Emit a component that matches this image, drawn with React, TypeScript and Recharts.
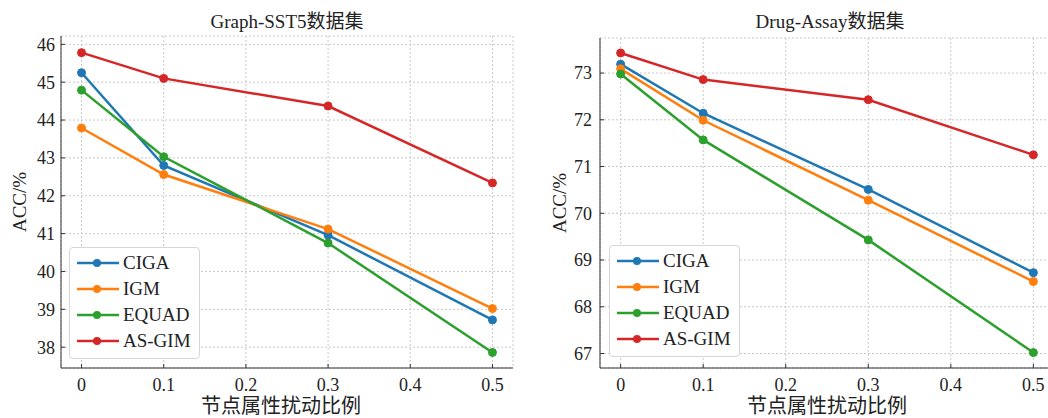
import React from 'react';
import { LineChart, Line, XAxis, YAxis, CartesianGrid } from 'recharts';

const ratios = [0, 0.1, 0.3, 0.5];
const xTicks = [0, 0.1, 0.2, 0.3, 0.4, 0.5];
const seriesNames = ['CIGA', 'IGM', 'EQUAD', 'AS-GIM'];
const seriesColors = ['#1f77b4', '#ff7f0e', '#2ca02c', '#d62728'];

// Graph-SST5
const sstCIGA = [45.25, 42.8, 40.96, 38.72];
const sstIGM = [43.79, 42.56, 41.12, 39.02];
const sstEQUAD = [44.79, 43.03, 40.75, 37.86];
const sstASGIM = [45.78, 45.1, 44.37, 42.34];
const sstTicks = [38, 39, 40, 41, 42, 43, 44, 45, 46];

// Drug-Assay
const drugCIGA = [73.19, 72.14, 70.51, 68.73];
const drugIGM = [73.09, 71.99, 70.28, 68.54];
const drugEQUAD = [72.98, 71.57, 69.43, 67.02];
const drugASGIM = [73.43, 72.86, 72.43, 71.25];
const drugTicks = [67, 68, 69, 70, 71, 72, 73];

const serif = '"Liberation Serif", "Noto Sans CJK SC", serif';

const buildRows = (cols: number[][]) =>
  ratios.map((r, i) => {
    const row: Record<string, number> = { ratio: r };
    seriesNames.forEach((n, k) => {
      row[n] = cols[k][i];
    });
    return row;
  });

const LegendBox = ({ left, top }: { left: number; top: number }) => (
  <div
    style={{
      position: 'absolute',
      left,
      top,
      background: '#fff',
      border: '1px solid #d6d6d6',
      borderRadius: 4,
      padding: '2px 8px 4px 7px',
    }}
  >
    {seriesNames.map((n, i) => (
      <div key={n} style={{ display: 'flex', alignItems: 'center', height: 26 }}>
        <svg width={42} height={10}>
          <line x1={0} y1={5} x2={42} y2={5} stroke={seriesColors[i]} strokeWidth={2.5} />
          <circle cx={20} cy={5} r={4} fill={seriesColors[i]} />
        </svg>
        <span style={{ marginLeft: 4, fontFamily: serif, fontSize: 19, color: '#222', lineHeight: '26px' }}>
          {n}
        </span>
      </div>
    ))}
  </div>
);

interface PanelProps {
  title: string;
  rows: Record<string, number>[];
  yDomain: [number, number];
  yTicks: number[];
  left: number;
  width: number;
  yAxisWidth: number;
  top: number;
  yLabelOffset: number;
  yTickMargin: number;
  legendLeft: number;
  legendTop: number;
  textShift: number;
}

const Panel = (p: PanelProps) => {
  const plotLeft = p.yAxisWidth;
  const plotRight = p.width - 11;
  return (
    <div style={{ position: 'absolute', left: p.left, top: 0, width: p.width, height: 418 }}>
      <div
        style={{
          position: 'absolute',
          left: plotLeft + p.textShift,
          width: plotRight - plotLeft,
          top: 6,
          textAlign: 'center',
          fontFamily: serif,
          fontSize: 19,
          color: '#222',
        }}
      >
        {p.title}
      </div>
      <LineChart
        width={p.width}
        height={418}
        data={p.rows}
        margin={{ top: p.top, right: 11, bottom: 0, left: 0 }}
      >
        <CartesianGrid xAxisId="b" yAxisId="l" stroke="#c8c8c8" strokeDasharray="2 2" />
        <XAxis
          xAxisId="b"
          dataKey="ratio"
          type="number"
          domain={[-0.025, 0.525]}
          ticks={xTicks}
          interval={0}
          height={50}
          stroke="#333"
          tickSize={-4}
          tickMargin={14}
          tick={{ fill: '#222', fontSize: 18, fontFamily: serif }}
          label={{
            value: '节点属性扰动比例',
            position: 'insideBottom',
            offset: 5,
            dx: p.textShift * 2 - 6,
            style: { fill: '#222', fontSize: 20, fontFamily: serif },
          }}
        />
        <XAxis
          xAxisId="t"
          orientation="top"
          dataKey="ratio"
          type="number"
          domain={[-0.025, 0.525]}
          ticks={xTicks}
          interval={0}
          height={0}
          stroke="#333"
          tickSize={-4}
          tickFormatter={() => ''}
        />
        <YAxis
          yAxisId="l"
          type="number"
          domain={p.yDomain}
          ticks={p.yTicks}
          interval={0}
          width={p.yAxisWidth}
          stroke="#333"
          tickSize={-4}
          tickMargin={p.yTickMargin}
          tick={{ fill: '#222', fontSize: 18, fontFamily: serif }}
          label={{
            value: 'ACC/%',
            angle: -90,
            position: 'insideLeft',
            offset: p.yLabelOffset,
            style: { fill: '#222', fontSize: 19, fontFamily: serif, textAnchor: 'middle' },
          }}
        />
        <YAxis
          yAxisId="r"
          orientation="right"
          type="number"
          domain={p.yDomain}
          ticks={p.yTicks}
          interval={0}
          width={0}
          stroke="#333"
          tickSize={-4}
          tickFormatter={() => ''}
        />
        {seriesNames.map((n, i) => (
          <Line
            key={n}
            xAxisId="b"
            yAxisId="l"
            dataKey={n}
            stroke={seriesColors[i]}
            strokeWidth={2.5}
            dot={{ r: 4, fill: seriesColors[i], stroke: seriesColors[i], strokeWidth: 1 }}
            activeDot={false}
            isAnimationActive={false}
          />
        ))}
      </LineChart>
      <LegendBox left={p.legendLeft} top={p.legendTop} />
    </div>
  );
};

export default function App() {
  return (
    <div
      style={{
        position: 'absolute',
        left: 0,
        top: 0,
        width: 1048,
        height: 418,
        overflow: 'hidden',
        background: '#fff',
      }}
    >
      <Panel
        title="Graph-SST5数据集"
        rows={buildRows([sstCIGA, sstIGM, sstEQUAD, sstASGIM])}
        yDomain={[37.45, 46.22]}
        yTicks={sstTicks}
        left={0}
        width={524}
        yAxisWidth={61}
        top={36}
        yLabelOffset={19}
        yTickMargin={10}
        legendLeft={69}
        legendTop={247}
        textShift={0}
      />
      <Panel
        title="Drug-Assay数据集"
        rows={buildRows([drugCIGA, drugIGM, drugEQUAD, drugASGIM])}
        yDomain={[66.69, 73.75]}
        yTicks={drugTicks}
        left={524}
        width={541}
        yAxisWidth={76}
        top={38}
        yLabelOffset={35}
        yTickMargin={12}
        legendLeft={85}
        legendTop={245}
        textShift={3}
      />
    </div>
  );
}
